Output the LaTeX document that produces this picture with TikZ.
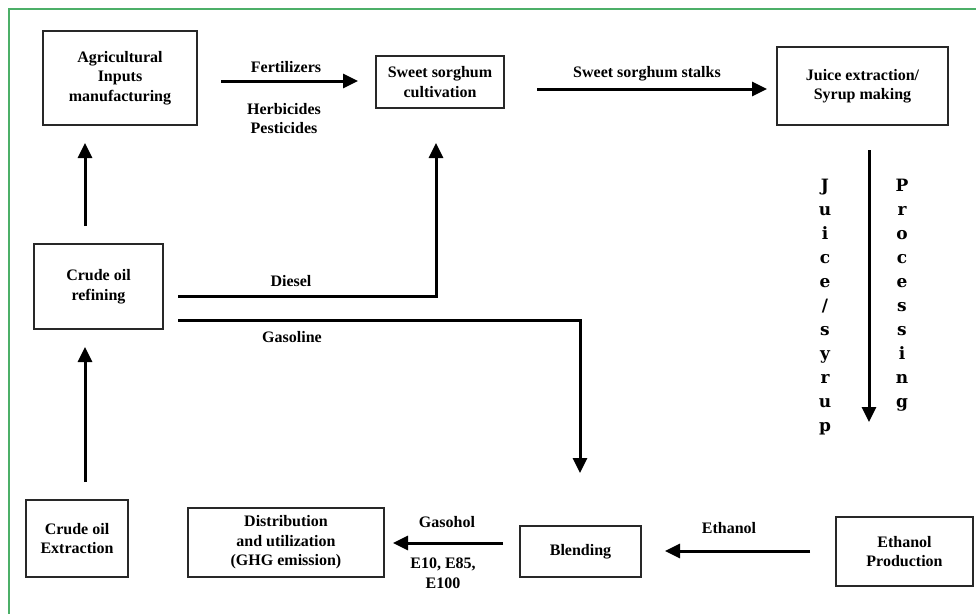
\documentclass[tikz,border=0pt]{standalone}
\usepackage{fontspec}
\setmainfont{Liberation Serif}
\newfontfamily\vletterfont{DejaVu Serif}
\usetikzlibrary{arrows.meta}
\definecolor{frameGreen}{RGB}{76,175,104}
\definecolor{boxGray}{RGB}{40,40,40}
\begin{document}
\begin{tikzpicture}[x=1pt,y=-1pt,
  every node/.style={font=\fontsize{16}{19.5}\selectfont\bfseries, text=black},
  procbox/.style={draw=boxGray, line width=1.4pt, align=center, outer sep=0pt, inner sep=2pt},
  flowarrow/.style={line width=3pt, -{Triangle[length=15pt,width=14pt]}},
  lbl/.style={inner sep=0pt, align=center},
  vletter/.style={anchor=base, inner sep=0pt, font=\vletterfont\fontsize{17}{20}\selectfont\bfseries}]
% canvas
\fill[white] (0,0) rectangle (976,613);
\useasboundingbox (0,0) rectangle (976,613);
\draw[frameGreen, line width=2pt] (9,615) -- (9,9) -- (978,9);

% boxes
\node[procbox, minimum width=154pt, minimum height=94pt] (agri) at (120,78) {Agricultural\\Inputs\\manufacturing};
\node[procbox, minimum width=128pt, minimum height=52pt] (sorghum) at (440,82) {Sweet sorghum\\cultivation};
\node[procbox, minimum width=171pt, minimum height=78pt] (juice) at (862.5,86) {Juice extraction/\\Syrup making};
\node[procbox, minimum width=129pt, minimum height=85pt] (refining) at (98.5,286.5) {Crude oil\\refining};
\node[procbox, minimum width=102pt, minimum height=77pt] (extraction) at (77,538.5) {Crude oil\\Extraction};
\node[procbox, minimum width=196pt, minimum height=69pt] (distrib) at (286,542.5) {Distribution\\and utilization\\(GHG emission)};
\node[procbox, minimum width=121pt, minimum height=51pt] (blending) at (580.5,551.5) {Blending};
\node[procbox, minimum width=137pt, minimum height=69pt] (ethprod) at (904.5,551.5) {Ethanol\\Production};

% connector end points
\coordinate (fertS) at (221,81);
\coordinate (fertE) at (358,81);
\coordinate (stalkS) at (537,89);
\coordinate (stalkE) at (767,89);
\coordinate (procS) at (869,150);
\coordinate (procE) at (869,422);
\coordinate (ethS) at (810,551);
\coordinate (ethE) at (665,551);
\coordinate (gasoS) at (503,543);
\coordinate (gasoE) at (393,543);
\coordinate (extS) at (85,482);
\coordinate (extE) at (85,347);
\coordinate (refS) at (85,226);
\coordinate (refE) at (85,143);
\coordinate (dieS) at (178,296);
\coordinate (dieE) at (436,143);
\coordinate (gasS) at (178,320);
\coordinate (gasE) at (580,473);

% connectors
\draw[flowarrow] (fertS) -- (fertE);
\draw[flowarrow] (stalkS) -- (stalkE);
\draw[flowarrow] (procS) -- (procE);
\draw[flowarrow] (ethS) -- (ethE);
\draw[flowarrow] (gasoS) -- (gasoE);
\draw[flowarrow] (extS) -- (extE);
\draw[flowarrow] (refS) -- (refE);
\draw[flowarrow] (dieS) -| (dieE);
\draw[flowarrow] (gasS) -| (gasE);

% labels
\node[lbl] (lfert) at (286,67) {Fertilizers};
\node[lbl] (lherb) at (284,109) {Herbicides};
\node[lbl] (lpest) at (284,128) {Pesticides};
\node[lbl] (lstalk) at (647,74) {Sweet sorghum stalks};
\node[lbl] (ldiesel) at (291,281) {Diesel};
\node[lbl] (lgasoline) at (292,337) {Gasoline};
\node[lbl] (lethanol) at (729,528) {Ethanol};
\node[lbl] (lgasohol) at (447,522) {Gasohol};
\node[lbl] (le1) at (443,564) {E10, E85,};
\node[lbl] (le2) at (443,583) {E100};

% vertical letter labels
\foreach \c [count=\i from 0] in {J,u,i,c,e,/,s,y,r,u,p}
  \node[vletter] (js\i) at (825,191+24*\i) {\c};
\foreach \c [count=\i from 0] in {P,r,o,c,e,s,s,i,n,g}
  \node[vletter] (pr\i) at (902,191+24*\i) {\c};
\end{tikzpicture}
\end{document}
